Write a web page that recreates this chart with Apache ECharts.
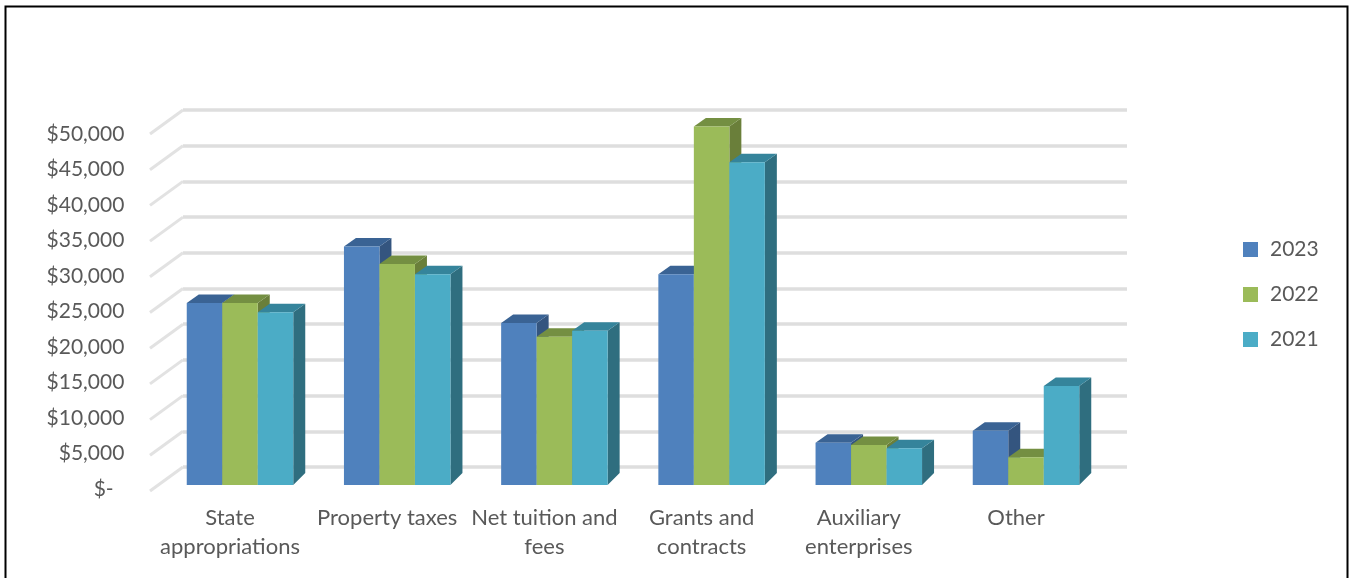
<!DOCTYPE html>
<html>
<head>
<meta charset="utf-8">
<style>html,body{margin:0;padding:0;background:#fff}#c{width:1350px;height:578px}</style>
<script src="https://cdn.jsdelivr.net/npm/echarts@6/dist/echarts.min.js"></script>
</head>
<body>
<div id="c"></div>
<script>
const categories = ['State\nappropriations','Property taxes','Net tuition and\nfees','Grants and\ncontracts','Auxiliary\nenterprises','Other'];
const values2023 = [25500,33400,22700,29500,5900,7600];
const values2022 = [25500,30950,20750,50200,5600,3900];
const values2021 = [24200,29500,21600,45200,5150,13850];
const yTicks = [0,5000,10000,15000,20000,25000,30000,35000,40000,45000,50000];
const yLabels = ['$-  ','$5,000','$10,000','$15,000','$20,000','$25,000','$30,000','$35,000','$40,000','$45,000','$50,000'];

const chart = echarts.init(document.getElementById('c'), null, {renderer:'canvas'});
const FONT = 'Lato';
const TXT = '#595959';
const DX = 12, DY = 8.5, BAR_FRAC = 35.5/157.2;

function barSeries(name, vals, idx, front, top, side){
  return {
    name, type:'custom', coordinateSystem:'cartesian2d', xAxisIndex:1, yAxisIndex:1,
    itemStyle:{color:front}, clip:false, silent:true,
    data: vals.map((v,i)=>[i,v]),
    encode:{x:0,y:1},
    renderItem(params, api){
      const c = api.coord([api.value(0), api.value(1)]);
      const base = api.coord([api.value(0), 0]);
      const w = api.size([1,0])[0]*BAR_FRAC;
      const x0 = c[0] + (idx-1.5)*w, x1 = x0+w, yt = c[1], yb = base[1];
      return {type:'group', children:[
        {type:'polygon', shape:{points:[[x1,yt],[x1+DX,yt-DY],[x1+DX,yb-12],[x1,yb]]}, style:{fill:side}},
        {type:'polygon', shape:{points:[[x0,yt],[x0+DX,yt-DY],[x1+DX,yt-DY],[x1,yt]]}, style:{fill:top}},
        {type:'rect', shape:{x:x0,y:yt,width:w,height:yb-yt}, style:{fill:front}}
      ]};
    }
  };
}

chart.setOption({
  animation:false,
  backgroundColor:'#fff',
  textStyle:{fontFamily:FONT},
  graphic:[{type:'rect', silent:true, z:100, shape:{x:5.5,y:6.5,width:1342,height:620}, style:{fill:'none',stroke:'#000',lineWidth:2}}],
  legend:{
    orient:'vertical', left:1238, top:234, itemWidth:15, itemHeight:15, itemGap:24, icon:'rect',
    data:['2023','2022','2021'],
    textStyle:{fontFamily:FONT,fontSize:21,color:TXT,padding:[0,0,0,7]}
  },
  grid:[
    {left:151.4, width:943.2, top:134, height:355},
    {left:161.4, width:943.2, top:128, height:357},
    {left:183, width:944, top:110, height:357}
  ],
  xAxis:[
    {gridIndex:0,type:'category',data:categories,axisLine:{show:false},axisTick:{show:false},
     axisLabel:{interval:0,margin:14,fontFamily:FONT,fontSize:22,color:TXT,lineHeight:29}},
    {gridIndex:1,type:'category',data:categories,show:false},
    {gridIndex:2,type:'value',min:0,max:1,show:false}
  ],
  yAxis:[
    {gridIndex:0,type:'value',min:0,max:50000,interval:5000,axisLine:{show:false},axisTick:{show:false},splitLine:{show:false},
     axisLabel:{margin:27,fontFamily:FONT,fontSize:21,color:TXT,formatter:v=>yLabels[yTicks.indexOf(v)]}},
    {gridIndex:1,type:'value',min:0,max:50000,interval:5000,show:false},
    {gridIndex:2,type:'value',min:0,max:50000,interval:5000,axisLine:{show:false},axisTick:{show:false},axisLabel:{show:false},
     splitLine:{show:true,lineStyle:{color:'#DEDEDE',width:3.5}}}
  ],
  series:[
    {type:'custom',name:'walls',coordinateSystem:'cartesian2d',xAxisIndex:2,yAxisIndex:2,silent:true,clip:false,
     data:yTicks.map(t=>[0,t]),encode:{x:0,y:1},
     renderItem(params,api){
       const p = api.coord([0,api.value(1)]);
       return {type:'line',shape:{x1:p[0],y1:p[1],x2:p[0]-33,y2:p[1]+24},style:{stroke:'#E2E2E2',lineWidth:3}};
     }},
    barSeries('2023',values2023,0,'#4F81BD','#3A6394','#34557F'),
    barSeries('2022',values2022,1,'#9BBB59','#748F42','#6A7F3A'),
    barSeries('2021',values2021,2,'#4BACC6','#35849B','#2F6E7F')
  ]
});
</script>
</body>
</html>
